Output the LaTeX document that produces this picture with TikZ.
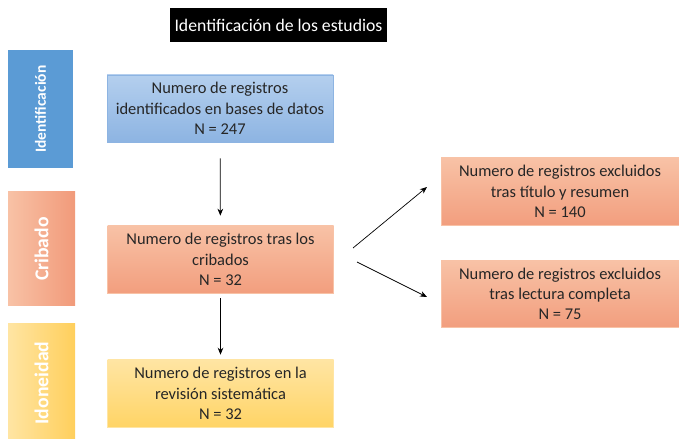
\documentclass[tikz,border=0pt]{standalone}
\usepackage{fontspec}
\setmainfont{Carlito}
\usetikzlibrary{arrows.meta}
\definecolor{azulFase}{HTML}{5B9BD5}
\definecolor{azulClaro}{HTML}{B4CFEE}
\definecolor{azulOscuro}{HTML}{8DB4E2}
\definecolor{salmonFase}{HTML}{F19A7A}
\definecolor{salmonClaro}{HTML}{F8C2A6}
\definecolor{salmonOscuro}{HTML}{F29E7E}
\definecolor{amarilloFase}{HTML}{FFCF5C}
\definecolor{amarilloClaro}{HTML}{FFE5A3}
\definecolor{amarilloOscuro}{HTML}{FFD466}
\definecolor{textoGris}{HTML}{262626}

\begin{document}
\begin{tikzpicture}[x=0.025cm,y=-0.025cm,
    fase/.style={minimum width=65*0.025cm,text=white,font=\bfseries,rotate=90,inner sep=0pt},
    caja/.style={minimum width=226*0.025cm,minimum height=67*0.025cm,align=center,
        text=textoGris,font=\fontsize{11.7}{14.4}\selectfont,inner sep=0pt,line width=0.4pt},
    flecha/.style={-{Stealth[length=5pt,width=4pt]},line width=0.5pt}]
        % Fix the frame of the page
        \useasboundingbox (0,0) rectangle (679,439);
        % Draw title
        \node[fill=black,text=white,minimum width=217*0.025cm,minimum height=34*0.025cm,inner sep=0pt,
            font=\fontsize{12.6}{15}\selectfont] (titulo) at (278.5,25) {Identificación de los estudios};
        % Draw phase bars
        \fill[azulFase] (8,50) rectangle (73,168);
        \node[fase,font=\bfseries\fontsize{11}{13}\selectfont] (identificacion) at (40.5,109) {Identificación};
        \fill[left color=salmonClaro,right color=salmonFase] (8,192) rectangle (75,306);
        \node[fase,font=\bfseries\fontsize{14}{16}\selectfont] (cribado) at (41.5,249) {Cribado};
        \fill[left color=amarilloClaro,right color=amarilloFase] (8,324) rectangle (75,439);
        \node[fase,font=\bfseries\fontsize{14}{16}\selectfont] (idoneidad) at (41.5,383) {Idoneidad};
        % Draw boxes
        \node[caja,draw=azulOscuro,top color=azulClaro,bottom color=azulOscuro] (bases) at (220,108.5)
            {Numero de registros\\identificados en bases de datos\\N = 247};
        \node[caja,draw=salmonClaro,top color=salmonClaro,bottom color=salmonOscuro] (cribados) at (220.5,259.5)
            {Numero de registros tras los\\cribados\\N = 32};
        \node[caja,draw=amarilloClaro,top color=amarilloClaro,bottom color=amarilloOscuro] (revision) at (220.5,393.5)
            {Numero de registros en la\\revisión sistemática\\N = 32};
        \node[caja,minimum width=238*0.025cm,draw=salmonClaro,top color=salmonClaro,bottom color=salmonOscuro]
            (resumen) at (560,191.5) {Numero de registros excluidos\\tras título y resumen\\N = 140};
        \node[caja,minimum width=238*0.025cm,draw=salmonClaro,top color=salmonClaro,bottom color=salmonOscuro]
            (lectura) at (560,294) {Numero de registros excluidos\\tras lectura completa\\N = 75};
        % Draw arrows
        \draw[flecha,shorten <=16*0.025cm,shorten >=10*0.025cm] (bases) -- (cribados);
        \draw[flecha,shorten <=5*0.025cm,shorten >=5*0.025cm] (cribados) -- (revision);
        \coordinate (salidaA) at (353,248);
        \coordinate (llegadaA) at (427,187);
        \coordinate (salidaB) at (357,262);
        \coordinate (llegadaB) at (427,297);
        \draw[flecha] (salidaA) -- (llegadaA);
        \draw[flecha] (salidaB) -- (llegadaB);
    \end{tikzpicture}
\end{document}
